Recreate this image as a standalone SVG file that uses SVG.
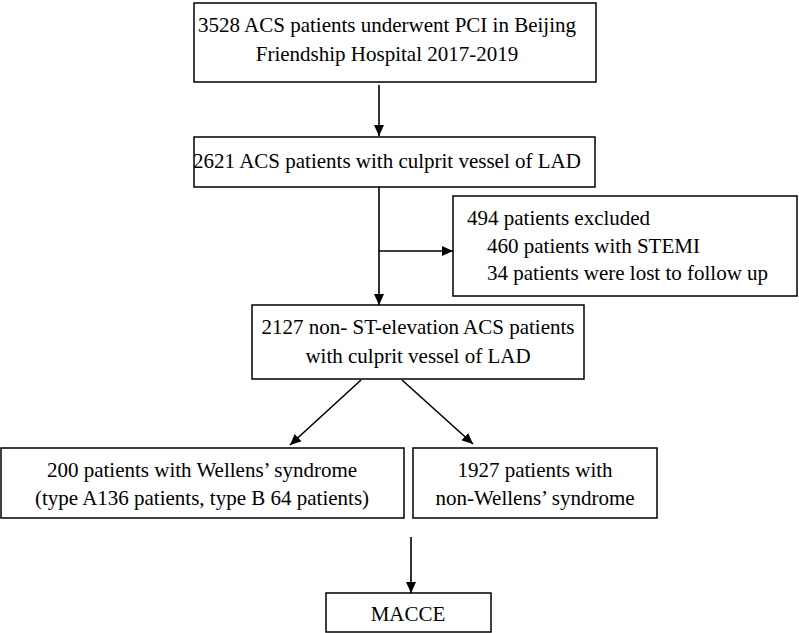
<svg xmlns="http://www.w3.org/2000/svg" width="799" height="633" viewBox="0 0 799 633" font-family="'Liberation Serif', 'Times New Roman', serif">
<defs>
<marker id="ah" markerWidth="11" markerHeight="10" refX="11" refY="5" orient="auto" markerUnits="userSpaceOnUse">
<path d="M0,0 L11,5 L0,10 z" fill="#000"/>
</marker>
<style>
.box{fill:#fff;stroke:#000;stroke-width:1.5}
.t{font-family:'Liberation Serif','Times New Roman',serif;font-size:21px;fill:#000}
.c{text-anchor:middle}
.ln{stroke:#000;stroke-width:1.6;fill:none}
</style>
</defs>
<rect width="799" height="633" fill="#fff"/>
<g id="connectors">
<line class="ln" x1="379" y1="85" x2="379" y2="136" marker-end="url(#ah)"/>
<line class="ln" x1="379" y1="187" x2="379" y2="305" marker-end="url(#ah)"/>
<line class="ln" x1="379" y1="251" x2="453" y2="251" marker-end="url(#ah)"/>
<line class="ln" x1="361" y1="380" x2="290" y2="445" marker-end="url(#ah)"/>
<line class="ln" x1="402" y1="380" x2="473" y2="444" marker-end="url(#ah)"/>
<line class="ln" x1="411" y1="537" x2="411" y2="593" marker-end="url(#ah)"/>
</g>
<g id="n1">
<rect class="box" x="194" y="3" width="402" height="79"/>
<text class="t c" x="387" y="32">3528 ACS patients underwent PCI in Beijing</text>
<text class="t c" x="387" y="61">Friendship Hospital 2017-2019</text>
</g>
<g id="n2">
<rect class="box" x="194" y="137" width="401" height="50"/>
<text class="t c" x="387" y="168">2621 ACS patients with culprit vessel of LAD</text>
</g>
<g id="n3">
<rect class="box" x="453" y="196" width="344" height="100"/>
<text class="t" x="467" y="225">494 patients excluded</text>
<text class="t" x="487" y="253">460 patients with STEMI</text>
<text class="t" x="487" y="280">34 patients were lost to follow up</text>
</g>
<g id="n4">
<rect class="box" x="252" y="305" width="332" height="74"/>
<text class="t c" x="418" y="334">2127 non- ST-elevation ACS patients</text>
<text class="t c" x="418" y="363">with culprit vessel of LAD</text>
</g>
<g id="n5">
<rect class="box" x="1" y="448" width="403" height="70"/>
<text class="t c" x="202" y="477">200 patients with Wellens’ syndrome</text>
<text class="t c" x="202" y="505">(type A136 patients, type B 64 patients)</text>
</g>
<g id="n6">
<rect class="box" x="413" y="448" width="244" height="70"/>
<text class="t c" x="535" y="477">1927 patients with</text>
<text class="t c" x="535" y="505">non-Wellens’ syndrome</text>
</g>
<g id="n7">
<rect class="box" x="326" y="593" width="165" height="39"/>
<text class="t c" x="408" y="621">MACCE</text>
</g>
</svg>
